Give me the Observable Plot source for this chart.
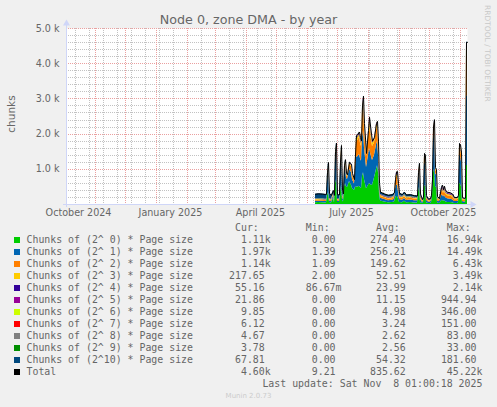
<!DOCTYPE html>
<html><head><meta charset="utf-8">
<script src="https://cdn.jsdelivr.net/npm/d3@7"></script>
<script src="https://cdn.jsdelivr.net/npm/@observablehq/plot@0.6"></script>
<style>
html,body{margin:0;padding:0;background:#f0f0f0;}
#wrap{position:relative;width:497px;height:407px;overflow:hidden;background:#f0f0f0;font-family:"DejaVu Sans",sans-serif;color:#666;}
#chart{position:absolute;left:0;top:0;}
.t{position:absolute;white-space:pre;}
.mono{font-family:"DejaVu Sans Mono",monospace;font-size:9.9px;line-height:12px;color:#666;}
.sw{position:absolute;width:6px;height:6px;}
</style></head><body><div id="wrap"><div id="chart"></div></div>
<script>
// ---- data ----
const dates = [
"2025-06-09","2025-06-12","2025-06-16","2025-06-19","2025-06-20","2025-06-21","2025-06-22","2025-06-23","2025-06-25","2025-06-27",
"2025-06-28","2025-06-29","2025-06-30","2025-07-01","2025-07-03","2025-07-04","2025-07-05","2025-07-06","2025-07-07","2025-07-08",
"2025-07-09","2025-07-10","2025-07-11","2025-07-13","2025-07-15","2025-07-16","2025-07-18","2025-07-19","2025-07-20","2025-07-21",
"2025-07-23","2025-07-24","2025-07-25","2025-07-26","2025-07-27","2025-07-28","2025-07-30","2025-08-01","2025-08-02","2025-08-04",
"2025-08-05","2025-08-07","2025-08-09","2025-08-10","2025-08-11","2025-08-12","2025-08-13","2025-08-17","2025-08-21","2025-08-25",
"2025-08-27","2025-08-28","2025-08-29","2025-08-30","2025-08-31","2025-09-01","2025-09-04","2025-09-06","2025-09-08","2025-09-12",
"2025-09-16","2025-09-19","2025-09-20","2025-09-21","2025-09-22","2025-09-24","2025-09-25","2025-09-26","2025-09-27","2025-09-28",
"2025-09-30","2025-10-02","2025-10-03","2025-10-04","2025-10-05","2025-10-06","2025-10-07","2025-10-08","2025-10-09","2025-10-11",
"2025-10-13","2025-10-14","2025-10-15","2025-10-16","2025-10-17","2025-10-19","2025-10-22","2025-10-24","2025-10-26","2025-10-29",
"2025-10-30","2025-10-31","2025-11-01","2025-11-02","2025-11-03","2025-11-05","2025-11-06","2025-11-07","2025-11-08"];

const c0 = [50,55,50,45,50,250,350,60,45,180, 45,600,700,60,55,350,550,120,70,500,
 600,500,480,650,550,450,400,500,500,490, 520,480,450,800,900,700,450,550,600,550,
 550,750,1000,1100,900,300,100,70,50,55, 70,180,230,230,150,60,50,90,50,55,
 45,45,350,500,60,25,45,550,500,50, 30,30,50,250,900,1000,500,480,45,30,
 100,120,90,110,80,60,55,50,30,30, 40,600,580,500,30,25,28,1110,1110];
const c1 = [40,40,40,38,40,400,600,50,35,60, 35,650,780,40,40,600,850,100,60,400,
 480,250,230,350,350,250,180,550,850,860, 900,820,780,1100,1200,900,600,850,1000,800,
 700,650,700,700,500,150,80,70,60,65, 80,250,320,320,200,80,70,80,65,70,
 65,60,350,450,80,35,50,650,620,70, 40,40,70,280,950,1050,380,360,60,45,
 140,160,120,150,120,100,95,85,55,55, 70,800,790,700,55,45,48,1970,1970];
const c2 = [30,30,30,28,28,90,100,30,25,40, 25,120,140,28,25,120,150,50,35,100,
 100,80,80,130,170,120,80,260,450,460, 480,440,420,650,700,500,300,520,650,480,
 400,350,420,400,280,80,50,50,45,45, 50,150,220,220,130,55,50,55,48,50,
 45,45,100,120,55,25,35,150,160,50, 30,30,50,100,220,240,100,100,45,35,
 110,130,100,130,100,90,85,80,50,50, 60,220,220,190,50,45,45,1140,1140];
const c3 = [20,20,18,18,18,25,30,18,15,25, 15,30,40,16,15,30,40,20,18,25,
 30,25,25,35,40,30,20,50,80,80, 85,80,75,140,150,110,50,100,130,100,
 90,80,100,100,70,30,30,25,25,25, 30,50,70,80,50,30,28,30,27,27,
 25,25,30,35,28,15,20,40,45,25, 15,18,25,25,50,55,30,30,25,20,
 50,55,45,55,40,40,38,35,25,25, 30,50,50,45,25,22,24,217.65,217.65];
const c4 = [8,8,8,8,8,10,10,8,7,8, 7,10,12,7,7,10,12,8,8,10,
 10,8,8,10,12,10,8,15,30,30, 30,30,28,50,55,40,15,35,45,35,
 30,30,40,30,25,10,10,10,10,10, 12,25,40,45,30,15,12,12,12,12,
 10,10,12,12,12,8,10,15,15,12, 8,10,12,10,15,15,10,10,12,10,
 30,35,28,35,25,22,20,18,12,12, 14,15,15,14,12,10,10,55.16,55.16];
const c5 = [5,5,5,5,5,5,5,5,4,5, 4,5,6,4,4,5,6,5,5,5,
 5,4,4,5,6,5,4,8,15,15, 15,15,14,25,28,20,8,18,22,15,
 15,15,20,15,12,6,6,6,6,6, 7,12,20,25,15,8,6,6,6,6,
 5,5,6,6,6,4,5,7,7,6, 4,5,6,5,8,8,5,5,6,5,
 15,18,12,15,10,10,10,8,6,6, 7,8,8,7,6,5,5,21.86,21.86];
const c6 = [3,3,3,3,3,3,3,3,3,3, 3,3,3,3,3,3,3,3,3,3,
 3,3,3,3,3,3,2,4,8,8, 8,8,8,10,10,8,5,7,8,6,
 6,6,7,5,5,4,4,4,4,4, 4,5,6,6,5,4,4,4,4,4,
 3,3,3,3,3,3,3,3,3,3, 3,3,3,3,3,3,3,3,3,3,
 5,5,5,5,4,4,4,4,3,3, 3,3,3,3,3,3,3,9.85,9.85];
const c7 = [2,2,2,2,2,2,2,2,2,2, 2,2,2,2,2,2,2,2,2,2,
 2,2,2,2,2,2,2,3,5,5, 5,5,5,6,6,5,3,5,5,4,
 4,4,5,4,3,2,2,2,2,2, 2,3,4,4,3,2,2,2,2,2,
 2,2,2,2,2,2,2,2,2,2, 2,2,2,2,2,2,2,2,2,2,
 3,3,3,3,3,3,3,2,2,2, 2,2,2,2,2,2,2,6.12,6.12];
const c8 = [2,2,2,2,2,2,2,2,2,2, 2,2,2,2,2,2,2,2,2,2,
 2,2,2,2,2,2,2,2,4,4, 4,4,4,5,5,4,3,4,4,3,
 3,3,4,3,2,2,2,2,2,2, 2,2,3,3,2,2,2,2,2,2,
 2,2,2,2,2,2,2,2,2,2, 2,2,2,2,2,2,2,2,2,2,
 2,2,2,2,2,2,2,2,2,2, 2,2,2,2,2,2,2,4.67,4.67];
const c9 = [2,2,2,2,2,2,2,2,2,2, 2,2,2,2,2,2,2,2,2,2,
 2,2,2,2,2,2,2,2,3,3, 3,3,3,4,4,3,2,3,3,2,
 2,2,3,2,2,2,2,2,2,2, 2,2,2,2,2,2,2,2,2,2,
 2,2,2,2,2,2,2,2,2,2, 2,2,2,2,2,2,2,2,2,2,
 2,2,2,2,2,2,2,2,2,2, 2,2,2,2,2,2,2,3.78,3.78];
const c10 = [130,135,135,135,130,110,90,140,120,70, 120,80,60,115,115,80,60,90,95,50,
 40,20,10,10,10,10,5,10,10,20, 10,15,15,10,20,10,14,8,13,5,
 0,10,1,1,1,14,64,59,54,64, 71,21,5,5,13,62,54,67,52,50,
 46,41,43,38,50,19,26,29,44,28, 14,18,28,21,48,33,16,6,28,16,
 23,20,13,13,14,17,16,14,13,13, 20,30,28,25,13,9,11,67.81,67.81];

const seriesNames = [
 "Chunks of (2^ 0) * Page size","Chunks of (2^ 1) * Page size","Chunks of (2^ 2) * Page size",
 "Chunks of (2^ 3) * Page size","Chunks of (2^ 4) * Page size","Chunks of (2^ 5) * Page size",
 "Chunks of (2^ 6) * Page size","Chunks of (2^ 7) * Page size","Chunks of (2^ 8) * Page size",
 "Chunks of (2^ 9) * Page size","Chunks of (2^10) * Page size"];
const totalName = "Total";
const seriesColors = ["#00CC00","#0066B3","#FF8000","#FFCC00","#330099","#990099","#CCFF00","#FF0000","#808080","#008F00","#00487D"];
const totalColor = "#000000";

const curVals = ["1.11k","1.97k","1.14k","217.65 ","55.16 ","21.86 ","9.85 ","6.12 ","4.67 ","3.78 ","67.81 ","4.60k"];
const minVals = ["0.00 ","1.39 ","1.09 ","2.00 ","86.67m","0.00 ","0.00 ","0.00 ","0.00 ","0.00 ","0.00 ","9.21 "];
const avgVals = ["274.40 ","256.21 ","149.62 ","52.51 ","23.99 ","11.15 ","4.98 ","3.24 ","2.62 ","2.56 ","54.32 ","835.62 "];
const maxVals = ["16.94k","14.49k","6.43k","3.49k","2.14k","944.94 ","346.00 ","151.00 ","83.00 ","33.00 ","181.60 ","45.22k"];
const colHeaders = ["Cur:  ","Min:  ","Avg:  ","Max:  "];

const titleText = "Node 0, zone DMA - by year";
const yLabel = "chunks";
const lastUpdate = "Last update: Sat Nov  8 01:00:18 2025";
const versionText = "Munin 2.0.73";
const sideText = "RRDTOOL / TOBI OETIKER";

const xDomainStr = ["2024-10-03T00:00:00Z","2025-11-08T00:00:00Z"];
const yDomain = [0, 5000];
const xLabelDates = ["2024-10-15","2025-01-15","2025-04-15","2025-07-15","2025-10-15"];
const xLabelTexts = ["October 2024","January 2025","April 2025","July 2025","October 2025"];
const yMajor = [1000,2000,3000,4000,5000];
const yMinor = [200,400,600,800,1200,1400,1600,1800,2200,2400,2600,2800,3200,3400,3600,3800,4200,4400,4600,4800];
const monthStarts = ["2024-11-01","2024-12-01","2025-01-01","2025-02-01","2025-03-01","2025-04-01","2025-05-01","2025-06-01","2025-07-01","2025-08-01","2025-09-01","2025-10-01","2025-11-01"];
const minorStart = "2024-10-12";

// ---- build ----
const parse = d3.utcParse("%Y-%m-%d");
const xDomain = xDomainStr.map(s => new Date(s));
const series = [c0,c1,c2,c3,c4,c5,c6,c7,c8,c9,c10];
const long = [];
series.forEach((vals, k) => vals.forEach((v, i) => long.push({date: parse(dates[i]), name: seriesNames[k], value: v})));
const totals = dates.map((d, i) => ({date: parse(d), value: d3.sum(series, s => s[i])}));
const majorX = monthStarts.map(parse);
const minorX = d3.utcDay.range(parse(minorStart), xDomain[1], 1).filter((d, i) => i % 14 === 0);
const labelDates = xLabelDates.map(parse);
const vMinor = {stroke: "#c2c2c2", strokeDasharray: "1,1"};
const vMajor = {stroke: "#eaa0a0", strokeDasharray: "1,1"};
const hMinor = {stroke: "#c2c2c2", strokeDasharray: "1,1", shapeRendering: "crispEdges"};
const hMajor = {stroke: "#eaa0a0", strokeDasharray: "1,1", shapeRendering: "crispEdges"};

const chart = Plot.plot({
  width: 497, height: 222,
  marginLeft: 66, marginRight: 30, marginTop: 28, marginBottom: 18,
  style: {background: "transparent", fontFamily: "'DejaVu Sans', sans-serif", fontSize: "9.6px", color: "#666", overflow: "visible"},
  x: {type: "utc", domain: xDomain},
  y: {domain: yDomain},
  color: {domain: seriesNames, range: seriesColors},
  marks: [
    Plot.frame({fill: "white", stroke: null}),
    Plot.ruleX(minorX, vMinor),
    Plot.ruleY(yMinor, hMinor),
    Plot.ruleX(majorX, vMajor),
    Plot.ruleY(yMajor, hMajor),
    Plot.areaY(long, {x: "date", y: "value", z: "name", fill: "name", curve: "linear"}),
    Plot.lineY(totals, {x: "date", y: "value", stroke: totalColor, strokeWidth: 1, curve: "linear"}),
    Plot.ruleY([0], {stroke: "#CFD6F8", insetLeft: -3, insetRight: -4, shapeRendering: "crispEdges"}),
    Plot.ruleX([xDomain[0]], {stroke: "#CFD6F8", insetTop: -4, insetBottom: -3}),
    Plot.dot([xDomain[0]], {x: d => d, y: () => yDomain[1], symbol: "triangle", r: 2.6, fill: "#CFD6F8", stroke: null, dy: -5}),
    Plot.dot([xDomain[1]], {x: d => d, y: () => 0, symbol: "triangle", r: 2.6, fill: "#CFD6F8", stroke: null, dx: 5, rotate: 90}),
    Plot.axisX({ticks: labelDates, tickFormat: d => xLabelTexts[labelDates.findIndex(v => +v === +d)], tickSize: 0, tickPadding: 4.5, label: null}),
    Plot.axisY({ticks: yMajor, tickFormat: d => (d / 1000).toFixed(1) + " k", tickSize: 0, tickPadding: 7, label: null})
  ]
});
document.getElementById("chart").appendChild(chart);

// ---- overlays ----
const wrap = document.getElementById("wrap");
function addText(txt, css, cls) {
  const el = document.createElement("div");
  el.className = "t" + (cls ? " " + cls : "");
  el.textContent = txt;
  Object.assign(el.style, css);
  wrap.appendChild(el);
  return el;
}
addText(titleText, {left: "0px", width: "497px", textAlign: "center", top: "11.6px", fontSize: "12.7px", lineHeight: "16px", color: "#666"});
addText(yLabel, {left: "10.7px", top: "114px", fontSize: "10.5px", lineHeight: "12px", color: "#666", transform: "translate(-50%,-50%) rotate(-90deg)"});
addText(sideText, {left: "482px", top: "5px", fontSize: "7.5px", lineHeight: "10px", color: "#c8c8c8", writingMode: "vertical-rl"});

const colRight = [270.7, 341.5, 411.7, 482.5];
const headerTop = 221.8, rowTop0 = 233.9, rowStep = 12;
colHeaders.forEach((h, j) => addText(h, {right: (497 - colRight[j]) + "px", top: headerTop + "px"}, "mono"));
const names = seriesNames.concat([totalName]);
const colors = seriesColors.concat([totalColor]);
names.forEach((n, i) => {
  const top = rowTop0 + rowStep * i;
  const sw = document.createElement("div");
  sw.className = "sw";
  Object.assign(sw.style, {left: "14px", top: (top + 3.2) + "px", background: colors[i]});
  wrap.appendChild(sw);
  addText(n, {left: "26.5px", top: top + "px"}, "mono");
  [curVals, minVals, avgVals, maxVals].forEach((arr, j) =>
    addText(arr[i], {right: (497 - colRight[j]) + "px", top: top + "px"}, "mono"));
});
addText(lastUpdate, {right: (497 - 482.4) + "px", top: (rowTop0 + rowStep * 12) + "px"}, "mono");
addText(versionText, {left: "0px", width: "497px", textAlign: "center", top: "392.1px", fontSize: "7px", lineHeight: "9px", color: "#cccccc"});
</script></body></html>
